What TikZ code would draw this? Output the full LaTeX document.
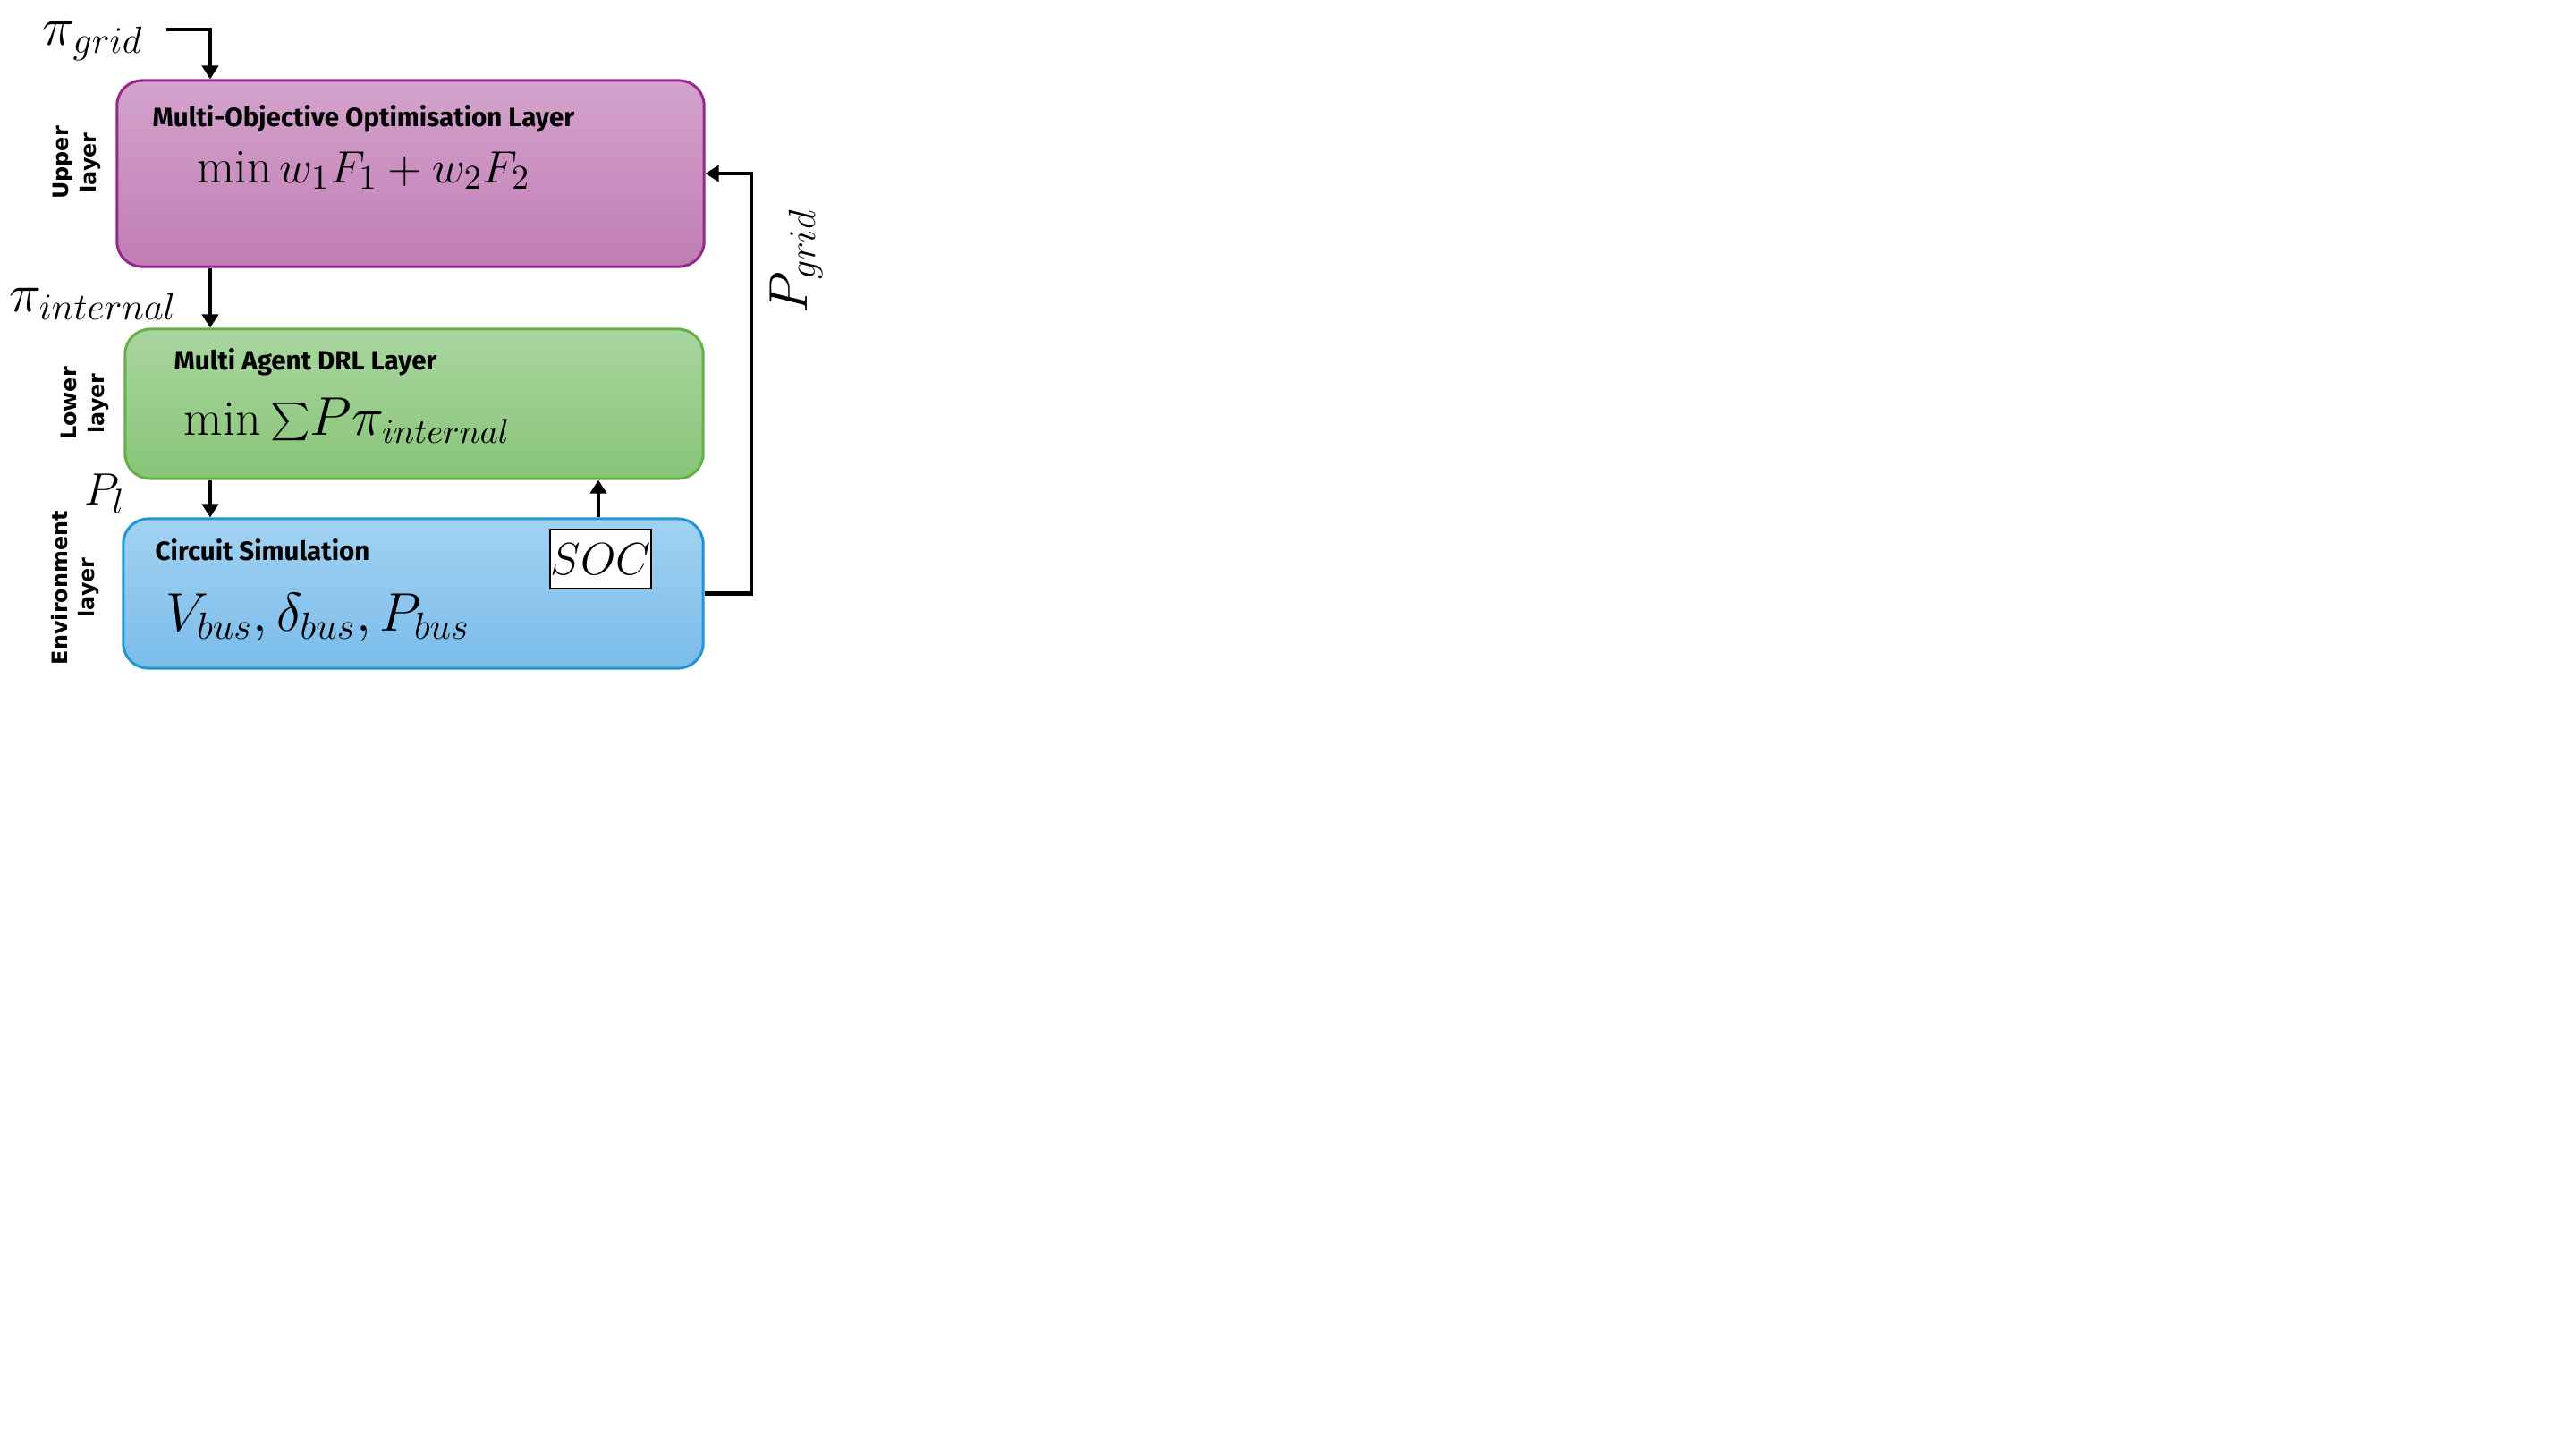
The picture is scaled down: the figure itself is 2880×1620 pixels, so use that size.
\documentclass[tikz,border=0pt]{standalone}
\usepackage{fontspec}
\newfontfamily\titlefont{Fira Sans}
\newfontfamily\sidefont{DejaVu Sans}
\usetikzlibrary{arrows.meta}
\definecolor{upTop}{RGB}{212,163,205}
\definecolor{upBot}{RGB}{193,125,180}
\definecolor{upLine}{RGB}{150,40,140}
\definecolor{loTop}{RGB}{169,214,160}
\definecolor{loBot}{RGB}{137,196,120}
\definecolor{loLine}{RGB}{100,175,70}
\definecolor{enTop}{RGB}{162,210,242}
\definecolor{enBot}{RGB}{122,188,234}
\definecolor{enLine}{RGB}{30,150,210}
\tikzset{
  layerbox/.style={draw, line width=0.85pt, rounded corners=0.28cm, inner sep=0pt},
  arr/.style={line width=1.15pt, -{Triangle[length=0.15cm,width=0.18cm]}},
  titletext/.style={anchor=base west, inner sep=0pt, font=\titlefont\bfseries\fontsize{8.4}{10}\selectfont},
  sidetext/.style={rotate=90, align=center, inner sep=0pt, font=\sidefont\bfseries\fontsize{6.8}{8.8}\selectfont},
  mathtext/.style={inner sep=0pt},
}
\begin{document}
\begin{tikzpicture}[x=0.01cm, y=-0.01cm]
\useasboundingbox (0,0) rectangle (2880,1620);
% boxes
\node[layerbox, draw=upLine, top color=upTop, bottom color=upBot, minimum width=6.56cm, minimum height=2.08cm] (up) at (459,194) {};
\node[layerbox, draw=loLine, top color=loTop, bottom color=loBot, minimum width=6.46cm, minimum height=1.67cm] (low) at (463,451.5) {};
\node[layerbox, draw=enLine, top color=enTop, bottom color=enBot, minimum width=6.48cm, minimum height=1.67cm] (env) at (462,663.5) {};
\node[draw, line width=0.6pt, fill=white, minimum width=1.13cm, minimum height=0.66cm, inner sep=0pt] (soc) at (671.5,625) {\fontsize{13.6}{15}\selectfont $SOC$};
% titles
\node[titletext] (upT) at (170,141) {Multi-Objective Optimisation Layer};
\node[titletext] (loT) at (194,413) {Multi Agent DRL Layer};
\node[titletext] (enT) at (173,626) {Circuit Simulation};
% formulas
\node[mathtext, anchor=base west] (upM) at (220,204) {\fontsize{15.5}{18}\selectfont $\min w_1F_1 + w_2F_2$};
\node[mathtext, anchor=base west] (loM) at (205,486) {\fontsize{16}{19}\selectfont $\min \mathord{\raisebox{-0.06em}{\scalebox{1.2}{$\sum$}}}P\pi_{internal}$};
\node[mathtext, anchor=base west] (enM) at (185,705) {\fontsize{18}{21}\selectfont $V_{bus}, \delta_{bus}, P_{bus}$};
% side labels
\node[sidetext] (upS) at (86,182) {Upper\\layer};
\node[sidetext] (loS) at (95,451) {Lower\\layer};
\node[sidetext] (enS) at (84,657) {Environment\\layer};
% signal labels
\node[mathtext] (pig) at (104,46) {\fontsize{17}{20}\selectfont $\pi_{grid}$};
\node[mathtext] (pii) at (104,340) {\fontsize{18.2}{21}\selectfont $\pi_{internal}$};
\node[mathtext] (pl) at (117,552) {\fontsize{15}{18}\selectfont $P_l$};
\node[mathtext, rotate=90] (pg) at (890,292) {\fontsize{17}{20}\selectfont $P_{grid}$};
% coordinates
\coordinate (gin) at (186,33);
\coordinate (xa) at (235,0);
\coordinate (xb) at (669,0);
% connectors
\draw[arr] (gin) -| (xa |- up.north);
\draw[arr] (xa |- up.south) -- (xa |- low.north);
\draw[arr] (xa |- low.south) -- (xa |- env.north);
\draw[arr] (xb |- env.north) -- (xb |- low.south);
\draw[arr] (env.east) -- ++(52,0) |- (up.east);
\end{tikzpicture}
\end{document}
